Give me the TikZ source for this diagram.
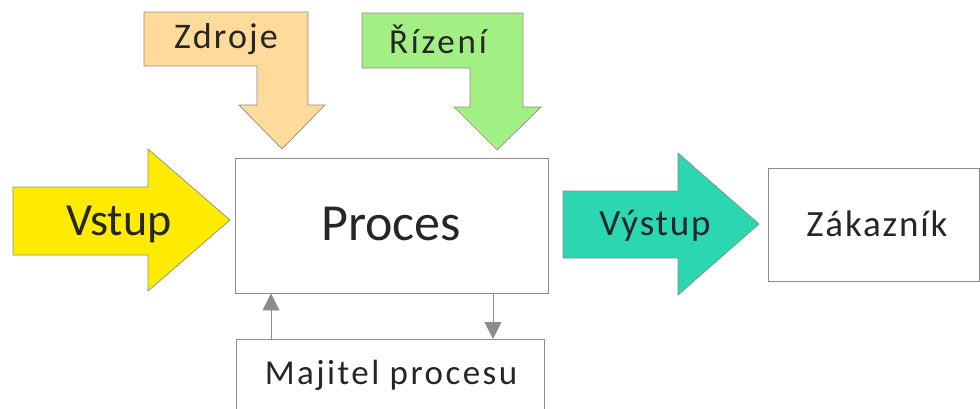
\documentclass[tikz,border=0pt]{standalone}
\usepackage{fontspec}
\setmainfont{Carlito}
\usetikzlibrary{arrows.meta}
\definecolor{edge}{HTML}{8C8C8C}
\definecolor{ink}{HTML}{262626}
\definecolor{resfill}{HTML}{FFDB9B}
\definecolor{ctlfill}{HTML}{A2F083}
\definecolor{infill}{HTML}{FFEB00}
\definecolor{outfill}{HTML}{2AD7B1}
\begin{document}
\begin{tikzpicture}[x=1pt,y=-1pt,
  box/.style={draw=edge, line width=0.9pt, fill=white, inner sep=0pt},
  blockarrow/.style={draw=edge, line width=0.7pt},
  txt/.style={text=ink, inner sep=0pt, anchor=base},
  link/.style={draw=edge, line width=0.9pt, -{Triangle[length=17pt,width=17pt]}}]
\useasboundingbox (0,0) rectangle (980,408);
\clip (0,0) rectangle (980,408);

% bent block arrows from above
\draw[blockarrow, fill=resfill] (144,12) -- (308,12) -- (308,105) -- (325,105) -- (282,149)
  -- (239,105) -- (257,105) -- (257,66) -- (144,66) -- cycle;
\draw[blockarrow, fill=ctlfill] (362,13) -- (523,13) -- (523,107) -- (541,107) -- (497,150)
  -- (454,107) -- (470,107) -- (470,68) -- (362,68) -- cycle;

% straight block arrows
\draw[blockarrow, fill=infill] (13,187) -- (148,187) -- (148,149) -- (230,220) -- (148,291)
  -- (148,255) -- (13,255) -- cycle;
\draw[blockarrow, fill=outfill] (563,191) -- (678,191) -- (678,153) -- (759,224) -- (678,295)
  -- (678,258) -- (563,258) -- cycle;

% boxes
\node[box, minimum width=313pt, minimum height=135pt] (proc) at (391.5,225.5) {};
\node[box, minimum width=211pt, minimum height=113pt] (cust) at (873.5,224.5) {};
\node[box, minimum width=308pt, minimum height=100pt, anchor=north] (owner) at (390,339) {};

% labels
\node[txt, font=\fontsize{36}{40}\selectfont\addfontfeature{LetterSpace=6}] (lres) at (226,48) {Zdroje};
\node[txt, font=\fontsize{35}{40}\selectfont\addfontfeature{LetterSpace=8}] (lctl) at (438,53) {Řízení};
\node[txt, font=\fontsize{46}{50}\selectfont] (lin) at (119,235) {Vstup};
\node[txt, font=\fontsize{52}{56}\selectfont] (lproc) at (391,240) {Proces};
\node[txt, font=\fontsize{37}{40}\selectfont\addfontfeature{LetterSpace=5}] (lout) at (655,235) {Výstup};
\node[txt, font=\fontsize{37}{40}\selectfont\addfontfeature{LetterSpace=5}] (lcust) at (877,236) {Zákazník};
\node[txt, font=\fontsize{35}{40}\selectfont\addfontfeature{LetterSpace=7}] (lown) at (391,384) {Majitel procesu};

% owner feedback links
\draw[link] (owner.north -| 271,0) -- (proc.south -| 271,0);
\draw[link] (proc.south -| 493,0) -- (owner.north -| 493,0);
\end{tikzpicture}
\end{document}
